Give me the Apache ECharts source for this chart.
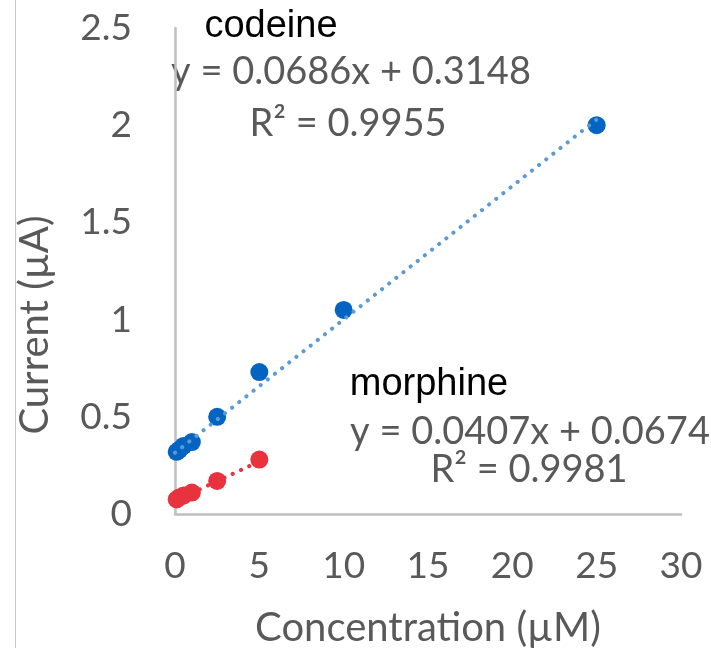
<!DOCTYPE html>
<html><head><meta charset="utf-8">
<script src="https://cdn.jsdelivr.net/npm/echarts@6/dist/echarts.min.js"></script>
<style>html,body{margin:0;padding:0;background:#fff}#c{width:711px;height:648px}</style>
</head><body><div id="c"></div>
<script>
var codeineX = [0.1, 0.25, 0.5, 1, 2.5, 5, 10, 25];
var codeineY = [0.32, 0.33, 0.35, 0.37, 0.50, 0.73, 1.05, 2.00];
var morphineX = [0.1, 0.25, 0.5, 1, 2.5, 5];
var morphineY = [0.075, 0.085, 0.095, 0.11, 0.17, 0.28];
var codeineFit = [0.0686, 0.3148];
var morphineFit = [0.0407, 0.0674];
var codeineRange = [0, 25];
var morphineRange = [0, 5];
var xTicks = [0, 5, 10, 15, 20, 25, 30];
var yTicks = [0, 0.5, 1, 1.5, 2, 2.5];

function pairs(xs, ys){ return xs.map(function(x,i){return [x, ys[i]];}); }
function fitLine(f, r){ return r.map(function(x){return [x, f[0]*x + f[1]];}); }

var FONT = 'Lato';
var chart = echarts.init(document.getElementById('c'));
chart.setOption({
  animation: false,
  grid: {left: 175, right: 30, top: 28, bottom: 134},
  xAxis: {
    type: 'value', min: xTicks[0], max: xTicks[xTicks.length-1], interval: 5,
    axisLine: {show: true, onZero: false, lineStyle: {color: '#BFBFBF', width: 2.5}},
    axisTick: {show: false}, splitLine: {show: false},
    axisLabel: {color: '#595959', fontSize: 37, fontFamily: FONT, margin: 34}
  },
  yAxis: {
    type: 'value', min: yTicks[0], max: yTicks[yTicks.length-1], interval: 0.5,
    axisLine: {show: true, lineStyle: {color: '#BFBFBF', width: 2.5}},
    axisTick: {show: false}, splitLine: {show: false},
    axisLabel: {color: '#595959', fontSize: 37, fontFamily: FONT, margin: 43}
  },
  series: [
    {type: 'line', data: fitLine(codeineFit, codeineRange), symbol: 'none', z: 3,
     lineStyle: {color: '#5B9BD5', width: 4, type: [0.1, 9], cap: 'round'}},
    {type: 'line', data: fitLine(morphineFit, morphineRange), symbol: 'none', z: 3,
     lineStyle: {color: '#E8333F', width: 4, type: [0.1, 9], cap: 'round'}},
    {type: 'scatter', data: pairs(codeineX, codeineY), symbolSize: 18, z: 2,
     itemStyle: {color: '#0563C1', opacity: 1}},
    {type: 'scatter', data: pairs(morphineX, morphineY), symbolSize: 18, z: 2,
     itemStyle: {color: '#E8333F', opacity: 1}}
  ],
  graphic: [
    {type: 'line', shape: {x1: 15.5, y1: 0, x2: 15.5, y2: 648}, style: {stroke: '#C8C8C8', lineWidth: 1}},
    {type: 'text', x: 428, y: 628, style: {text: 'Concentration (\u00b5M)', fill: '#595959', font: '40px Lato', textAlign: 'center', textVerticalAlign: 'middle'}},
    {type: 'text', x: 35, y: 325, rotation: Math.PI/2, style: {text: 'Current (\u00b5A)', fill: '#595959', font: '40px Lato', textAlign: 'center', textVerticalAlign: 'middle'}},
    {type: 'text', x: 271, y: 27, style: {text: 'codeine', fill: '#000', font: '38px "Liberation Sans"', textAlign: 'center', textVerticalAlign: 'middle'}},
    {type: 'text', x: 351, y: 72, style: {text: 'y = 0.0686x + 0.3148', fill: '#595959', font: '38px Lato', textAlign: 'center', textVerticalAlign: 'middle'}},
    {type: 'text', x: 348, y: 124, style: {text: 'R\u00b2 = 0.9955', fill: '#595959', font: '38px Lato', textAlign: 'center', textVerticalAlign: 'middle'}},
    {type: 'text', x: 429, y: 385, style: {text: 'morphine', fill: '#000', font: '38px "Liberation Sans"', textAlign: 'center', textVerticalAlign: 'middle'}},
    {type: 'text', x: 530, y: 432, style: {text: 'y = 0.0407x + 0.0674', fill: '#595959', font: '38px Lato', textAlign: 'center', textVerticalAlign: 'middle'}},
    {type: 'text', x: 529, y: 470, style: {text: 'R\u00b2 = 0.9981', fill: '#595959', font: '38px Lato', textAlign: 'center', textVerticalAlign: 'middle'}}
  ]
});
</script></body></html>
